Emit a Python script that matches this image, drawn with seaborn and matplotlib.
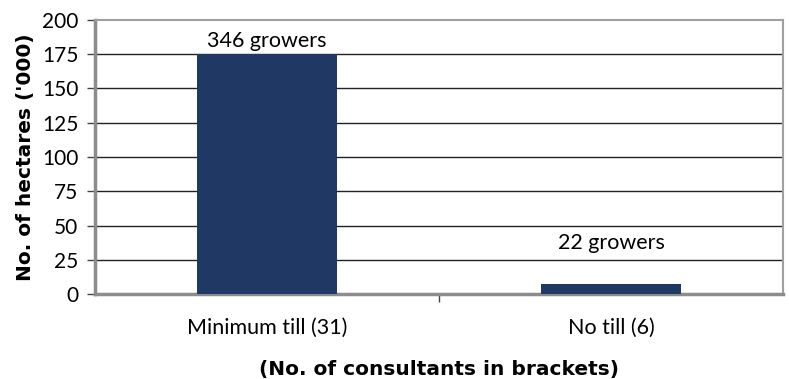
import matplotlib
matplotlib.use("Agg")
import matplotlib.pyplot as plt
import seaborn as sns
import pandas as pd

categories = ["Minimum till (31)", "No till (6)"]
hectares_thousand = [175, 7]
grower_labels = ["346 growers", "22 growers"]
label_heights = [185, 37]
y_ticks = [0, 25, 50, 75, 100, 125, 150, 175, 200]

sns.set_theme(style="white")
plt.rcParams["font.family"] = ["Lato", "DejaVu Sans"]

df = pd.DataFrame({"category": categories, "hectares": hectares_thousand})

fig = plt.figure(figsize=(7.89, 3.79), dpi=100)
ax = fig.add_axes([95 / 789, 1 - 294 / 379, 688 / 789, 274 / 379])

sns.barplot(data=df, x="category", y="hectares", color="#1f3864",
            width=0.405, saturation=1, edgecolor="#1f3864", linewidth=0,
            ax=ax, zorder=3)

ax.set_ylim(0, 200)
ax.set_xlim(-0.5, 1.5)
ax.set_yticks(y_ticks)
ax.set_yticklabels([str(t) for t in y_ticks], fontsize=15, color="black")
ax.tick_params(axis="x", labelsize=15.5, colors="black", length=0, pad=17)
ax.tick_params(axis="y", length=6, width=1, color="#444444", direction="out", pad=6, left=True)

for t in y_ticks[1:-1]:
    ax.axhline(t, color="#222222", lw=1, zorder=1)

for side in ["top", "right"]:
    ax.spines[side].set_color("#a0a0a0")
    ax.spines[side].set_linewidth(1.5)
for side in ["left", "bottom"]:
    ax.spines[side].set_color("#8c8c8c")
    ax.spines[side].set_linewidth(2.5)
    ax.spines[side].set_visible(True)

# category divider tick on the x axis
ax.set_xticks([0, 1], minor=False)
ax.set_xticks([0.5], minor=True)
ax.tick_params(axis="x", which="minor", length=6, width=1, color="#444444", bottom=True)

for i, (txt, h) in enumerate(zip(grower_labels, label_heights)):
    ax.text(i, h, txt, ha="center", va="center", fontsize=15.5, color="black", zorder=4)

label_font = dict(family=["DejaVu Sans"], fontsize=14.5, fontweight="bold", color="black")
ax.set_ylabel("No. of hectares ('000)", labelpad=5, **label_font)
ax.set_xlabel("(No. of consultants in brackets)", labelpad=16, **label_font)

fig.savefig("out.png", dpi=100)
